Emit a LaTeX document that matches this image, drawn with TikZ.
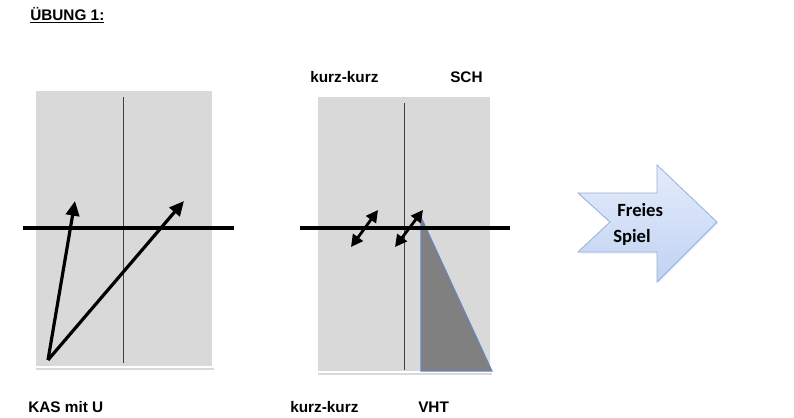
\documentclass[tikz,border=0pt]{standalone}
\usepackage{fontspec}
\setmainfont{Liberation Sans}
\newfontfamily\calibrifont{Carlito}
\usetikzlibrary{arrows.meta, shadows}
\definecolor{panelgrau}{RGB}{217,217,217}
\definecolor{keilgrau}{RGB}{128,128,128}
\definecolor{blaurand}{RGB}{105,135,190}
\definecolor{pfeilhell}{RGB}{228,236,250}
\definecolor{pfeildunkel}{RGB}{192,210,242}
\definecolor{pfeilrand}{RGB}{150,175,220}

\begin{document}
\begin{tikzpicture}[x=0.75pt, y=-0.75pt,
    panel/.style={draw=white, line width=2.2pt, fill=panelgrau,
                  drop shadow={shadow xshift=0.6pt, shadow yshift=-2pt,
                               opacity=0.3}},
    achse/.style={black, line width=2.5pt},
    mitte/.style={black!75, line width=0.6pt},
    schuss/.style={-{Triangle[length=11pt, width=10pt]}, line width=2.4pt},
    doppel/.style={{Triangle[length=9pt, width=9pt]}-{Triangle[length=9pt, width=9pt]},
                   line width=2.1pt},
    lbl/.style={font=\fontsize{11.5pt}{13pt}\selectfont\bfseries,
                anchor=west, inner sep=0pt},
    pfeiltext/.style={font=\calibrifont\fontsize{14pt}{16pt}\selectfont\bfseries,
                      anchor=west, inner sep=0pt}
  ]
  \useasboundingbox (0,0) rectangle (794,418);

  % Titel
  \node[lbl] (titel) at (30,15) {\underline{ÜBUNG 1:}};

  % linkes Feld: KAS mit U
  \draw[panel] (35,90) rectangle (213,367);
  \coordinate (Lo) at (123,97);
  \coordinate (Lu) at (123,363);
  \coordinate (Ll) at (23,228);
  \coordinate (Lr) at (234,228);
  \draw[mitte] (Lo) -- (Lu);
  \draw[achse] (Ll) -- (Lr);

  \coordinate (start) at (48,360);
  \coordinate (ziel1) at (75,201);
  \coordinate (ziel2) at (184,201);
  \draw[schuss] (start) -- (ziel1);
  \draw[schuss] (start) -- (ziel2);

  \node[lbl] (kas) at (28,407) {KAS mit U};

  % mittleres Feld: kurz-kurz
  \draw[panel] (317,96) rectangle (491,372);
  \coordinate (Mo) at (404,103);
  \coordinate (Mu) at (404,370);
  \coordinate (Ml) at (300,228);
  \coordinate (Mr) at (510,228);

  \coordinate (k1) at (421,217);
  \coordinate (k2) at (421,371);
  \coordinate (k3) at (492,371);
  \fill[keilgrau] (k1) -- (k2) -- (k3) -- cycle;
  \draw[blaurand, line width=0.8pt] (k1) -- (k2) -- (k3) -- cycle;

  \draw[mitte] (Mo) -- (Mu);
  \draw[achse] (Ml) -- (Mr);

  \coordinate (d1a) at (351,247);
  \coordinate (d1b) at (378,210);
  \coordinate (d2a) at (395,247);
  \coordinate (d2b) at (423,210);
  \draw[doppel] (d1a) -- (d1b);
  \draw[doppel] (d2a) -- (d2b);

  \node[lbl] (kko) at (310,77) {kurz-kurz};
  \node[lbl] (sch) at (450,77) {SCH};
  \node[lbl] (kku) at (290,407) {kurz-kurz};
  \node[lbl] (vht) at (418,407) {VHT};

  % Pfeil: Freies Spiel
  \shade[top color=pfeilhell, bottom color=pfeildunkel, draw=pfeilrand,
         line width=0.6pt,
         drop shadow={shadow xshift=0.8pt, shadow yshift=-1.2pt, opacity=0.15}]
    (578,193) -- (657,193) -- (657,165) -- (717,222) -- (657,282)
    -- (657,252) -- (578,252) -- (610,222) -- cycle;
  \node[pfeiltext] (freies) at (617,210) {Freies};
  \node[pfeiltext] (spiel) at (613,237) {Spiel};

\end{tikzpicture}
\end{document}
